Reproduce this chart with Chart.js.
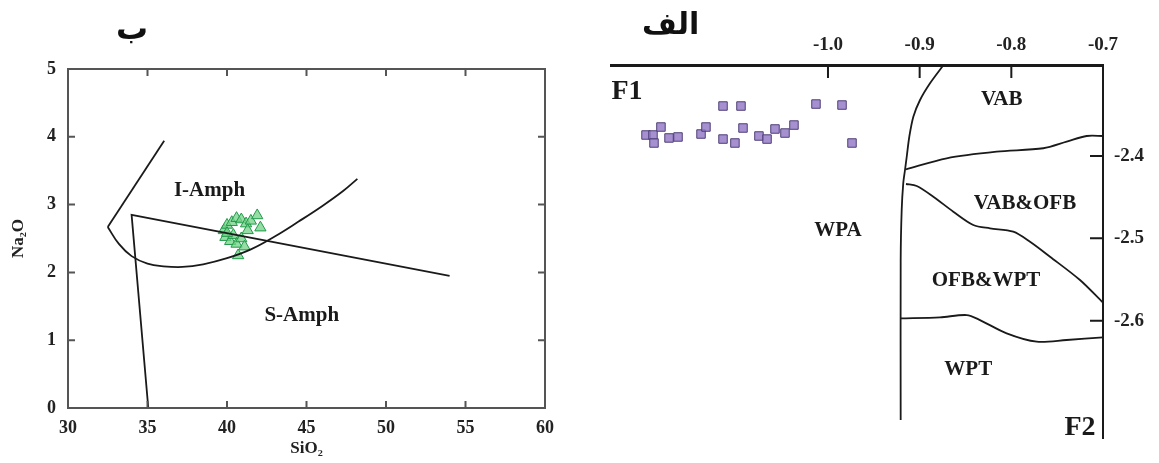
<!DOCTYPE html>
<html>
<head>
<meta charset="utf-8">
<script src="https://cdn.jsdelivr.net/npm/chart.js@4.4.1/dist/chart.umd.min.js"></script>
<style>
  body { margin: 0; background: #fff; }
  #wrap { position: relative; width: 1159px; height: 463px; overflow: hidden; }
  canvas { position: absolute; top: 0; }
  .ar { position: absolute; font-family: "DejaVu Sans"; font-weight: bold; color: #111; direction: rtl; }
</style>
</head>
<body>
<div id="wrap">
  <canvas id="amph" width="580" height="463" style="left:0"></canvas>
  <canvas id="disc" width="579" height="463" style="left:580px"></canvas>
  <div class="ar" style="left:116px; top:9px; font-size:32px;">ب</div>
  <div class="ar" style="left:642px; top:6px; font-size:30px;">الف</div>
</div>
<script>
// ---- left panel: SiO2 vs Na2O ----
const siTicks = [30, 35, 40, 45, 50, 55, 60];
const naTicks = [0, 1, 2, 3, 4, 5];

const amphSiO2 = [39.8, 40.0, 40.3, 40.6, 40.9, 41.2, 41.5, 41.9, 42.1, 39.9, 40.2, 40.4, 40.6, 40.9, 41.1, 40.7, 40.0, 41.3];
const amphNa2O = [2.62, 2.70, 2.74, 2.80, 2.78, 2.72, 2.76, 2.84, 2.66, 2.52, 2.46, 2.55, 2.42, 2.50, 2.38, 2.25, 2.58, 2.62];

// boundary lines
const leftArmSiO2 = [36.05, 32.5];
const leftArmNa2O = [3.94, 2.67];
const curveSiO2 = [32.5, 33.2, 34.0, 35.0, 36.0, 37.2, 38.5, 40.0, 41.5, 43.0, 44.5, 46.0, 47.3, 48.2];
const curveNa2O = [2.67, 2.42, 2.24, 2.13, 2.09, 2.08, 2.12, 2.21, 2.34, 2.53, 2.75, 2.98, 3.20, 3.38];
const wedgeSiO2 = [35.05, 34.0, 54.0];
const wedgeNa2O = [0, 2.85, 1.95];

// ---- right panel: F1 vs F2 ----
const f1Ticks = [-1.0, -0.9, -0.8, -0.7];
const f2Ticks = [-2.4, -2.5, -2.6];

const sampleF1 = [-1.1985, -1.1909, -1.1822, -1.1898, -1.1734, -1.1636, -1.1385, -1.1331, -1.1145, -1.0949, -1.1145,
                  -1.1015, -1.0927, -1.0753, -1.0665, -1.0578, -1.0469, -1.0371, -1.0131, -0.9847, -0.9738];
const sampleF2 = [-2.3745, -2.3745, -2.3648, -2.3842, -2.3781, -2.3769, -2.3733, -2.3648, -2.3393, -2.3393, -2.3794,
                  -2.3842, -2.3660, -2.3757, -2.3794, -2.3672, -2.3721, -2.3624, -2.3369, -2.3381, -2.3842];

const wpaF1 = [-0.874, -0.8887, -0.8996, -0.9069, -0.9113, -0.9141, -0.9160, -0.9179, -0.9196, -0.9207, -0.9207];
const wpaF2 = [-2.2895, -2.3117, -2.3320, -2.3523, -2.3766, -2.4009, -2.4170, -2.4332, -2.4656, -2.5263, -2.7206];
const vabF1 = [-0.9149, -0.8705, -0.8160, -0.7651, -0.7396, -0.7178, -0.7000];
const vabF2 = [-2.4162, -2.4028, -2.3948, -2.3906, -2.3826, -2.3757, -2.3757];
const vabOfbF1 = [-0.9149, -0.9032, -0.8851, -0.8633, -0.8415, -0.8233, -0.7979, -0.7796, -0.7578, -0.7251, -0.7000];
const vabOfbF2 = [-2.4340, -2.4364, -2.4494, -2.4676, -2.4838, -2.4878, -2.4919, -2.5041, -2.5223, -2.5506, -2.5781];
const ofbWptF1 = [-0.9207, -0.8778, -0.8487, -0.8342, -0.8051, -0.7723, -0.7396, -0.7000];
const ofbWptF2 = [-2.5971, -2.5959, -2.5931, -2.5992, -2.6153, -2.6255, -2.6234, -2.6202];

const pts = (xs, ys) => xs.map((x, i) => ({ x: x, y: ys[i] }));
const SERIF = "'Liberation Serif', 'DejaVu Serif', serif";

// short tick marks drawn inside the plot frame
const innerTicks = {
  id: 'innerTicks',
  afterDraw(chart, args, o) {
    const { ctx, chartArea: a, scales } = chart;
    ctx.save();
    ctx.strokeStyle = o.color;
    ctx.lineWidth = o.width;
    if (o.frame) ctx.strokeRect(a.left, a.top, a.right - a.left, a.bottom - a.top);
    ctx.beginPath();
    (o.xValues || []).forEach(v => {
      const px = scales.x.getPixelForValue(v);
      (o.xSides || []).forEach(s => {
        const y0 = s === 'top' ? a.top : a.bottom;
        ctx.moveTo(px, y0);
        ctx.lineTo(px, y0 + (s === 'top' ? o.len : -o.len));
      });
    });
    (o.yValues || []).forEach(v => {
      const py = scales.y.getPixelForValue(v);
      (o.ySides || []).forEach(s => {
        const x0 = s === 'left' ? a.left : a.right;
        ctx.moveTo(x0, py);
        ctx.lineTo(x0 + (s === 'left' ? o.len : -o.len), py);
      });
    });
    ctx.stroke();
    ctx.restore();
  }
};

// field names placed in data coordinates
const fieldText = {
  id: 'fieldText',
  afterDatasetsDraw(chart, args, o) {
    const { ctx, scales } = chart;
    ctx.save();
    ctx.fillStyle = '#1a1a1a';
    ctx.textAlign = 'center';
    ctx.textBaseline = 'middle';
    o.items.forEach(t => {
      ctx.font = 'bold ' + (t.size || o.size) + 'px ' + SERIF;
      ctx.fillText(t.text, scales.x.getPixelForValue(t.x), scales.y.getPixelForValue(t.y));
    });
    ctx.restore();
  }
};

const lineSet = (data, tension) => ({
  type: 'line', data: data, showLine: true, borderColor: '#1a1a1a', borderWidth: 1.8,
  pointRadius: 0, tension: tension, fill: false
});

new Chart(document.getElementById('amph'), {
  type: 'scatter',
  data: {
    datasets: [
      lineSet(pts(leftArmSiO2, leftArmNa2O), 0),
      lineSet(pts(curveSiO2, curveNa2O), 0.4),
      lineSet(pts(wedgeSiO2, wedgeNa2O), 0),
      {
        data: pts(amphSiO2, amphNa2O), pointStyle: 'triangle', pointRadius: 6.5,
        backgroundColor: 'rgba(115, 210, 135, 0.75)', borderColor: '#1f9a48', borderWidth: 1
      }
    ]
  },
  options: {
    responsive: false,
    animation: false,
    layout: { padding: { top: 69, right: 35, left: 0, bottom: 0 } },
    plugins: {
      legend: { display: false },
      tooltip: { enabled: false },
      innerTicks: { color: '#555', width: 2, len: 7, frame: true,
        xValues: siTicks.slice(1, -1), xSides: ['top', 'bottom'],
        yValues: naTicks.slice(1, -1), ySides: ['left', 'right'] },
      fieldText: { size: 21, items: [
        { text: 'I-Amph', x: 38.9, y: 3.21 },
        { text: 'S-Amph', x: 44.7, y: 1.36 }
      ] }
    },
    scales: {
      x: {
        type: 'linear', position: 'bottom', min: 30, max: 60,
        afterBuildTicks: s => { s.ticks = siTicks.map(v => ({ value: v })); },
        afterFit: s => { s.height = 55; },
        grid: { display: false, drawTicks: false },
        border: { display: false },
        ticks: { color: '#222', padding: 10, font: { family: SERIF, size: 18, weight: 'bold' } },
        title: { display: true, text: 'SiO₂', color: '#222', padding: { top: 0, bottom: 4 },
          font: { family: SERIF, size: 17, weight: 'bold' } }
      },
      y: {
        type: 'linear', position: 'left', min: 0, max: 5,
        afterBuildTicks: s => { s.ticks = naTicks.map(v => ({ value: v })); },
        afterFit: s => { s.width = 68; },
        grid: { display: false, drawTicks: false },
        border: { display: false },
        ticks: { color: '#222', padding: 12, font: { family: SERIF, size: 18, weight: 'bold' } },
        title: { display: true, text: 'Na₂O', color: '#222', padding: { top: 8, bottom: 0 },
          font: { family: SERIF, size: 17, weight: 'bold' } }
      }
    }
  },
  plugins: [innerTicks, fieldText]
});

new Chart(document.getElementById('disc'), {
  type: 'scatter',
  data: {
    datasets: [
      lineSet(pts(wpaF1, wpaF2), 0.3),
      lineSet(pts(vabF1, vabF2), 0.3),
      lineSet(pts(vabOfbF1, vabOfbF2), 0.3),
      lineSet(pts(ofbWptF1, ofbWptF2), 0.3),
      {
        data: pts(sampleF1, sampleF2), pointStyle: 'rect', pointRadius: 6,
        backgroundColor: 'rgba(150, 125, 200, 0.85)', borderColor: '#4e3f78', borderWidth: 1
      }
    ]
  },
  options: {
    responsive: false,
    animation: false,
    layout: { padding: { top: 0, right: 0, left: 31, bottom: 25 } },
    plugins: {
      legend: { display: false },
      tooltip: { enabled: false },
      innerTicks: { color: '#1a1a1a', width: 2, len: 13, frame: false,
        xValues: f1Ticks.slice(0, -1), xSides: ['top'],
        yValues: f2Ticks, ySides: ['right'] },
      fieldText: { size: 21, items: [
        { text: 'F1', x: -1.2193, y: -2.3223, size: 28 },
        { text: 'F2', x: -0.7251, y: -2.7303, size: 28 },
        { text: 'VAB', x: -0.8105, y: -2.332 },
        { text: 'VAB&OFB', x: -0.7851, y: -2.4574 },
        { text: 'WPA', x: -0.9891, y: -2.4911 },
        { text: 'OFB&WPT', x: -0.8276, y: -2.5514 },
        { text: 'WPT', x: -0.8470, y: -2.6599 }
      ] }
    },
    scales: {
      x: {
        type: 'linear', position: 'top', min: -1.2367, max: -0.7,
        afterBuildTicks: s => { s.ticks = f1Ticks.map(v => ({ value: v })); },
        afterFit: s => { s.height = 65; },
        grid: { display: false, drawTicks: false },
        border: { display: true, color: '#1a1a1a', width: 3 },
        ticks: { color: '#222', padding: 9, callback: v => v.toFixed(1),
          font: { family: SERIF, size: 19, weight: 'bold' } }
      },
      y: {
        type: 'linear', position: 'right', min: -2.7424, max: -2.2895,
        afterBuildTicks: s => { s.ticks = f2Ticks.map(v => ({ value: v })); },
        afterFit: s => { s.width = 56; },
        grid: { display: false, drawTicks: false },
        border: { display: true, color: '#1a1a1a', width: 2 },
        ticks: { color: '#222', padding: 11, callback: v => v.toFixed(1),
          font: { family: SERIF, size: 19, weight: 'bold' } }
      }
    }
  },
  plugins: [innerTicks, fieldText]
});
</script>
</body>
</html>
